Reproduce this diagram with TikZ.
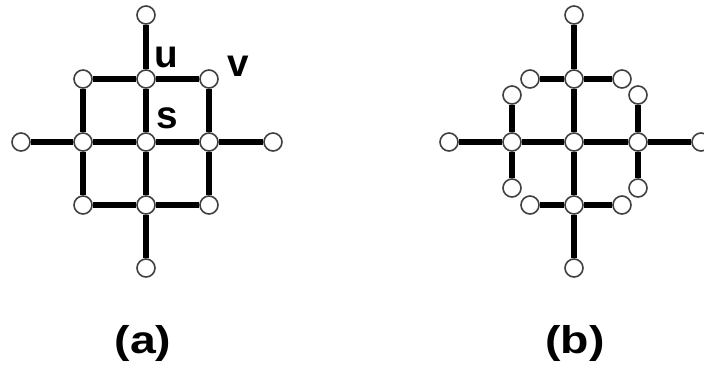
\documentclass[tikz,border=0pt]{standalone}
\usepackage{fontspec}
\setmainfont{Liberation Sans}
\newfontfamily\legenda[FakeStretch=1.2]{Liberation Sans}
\begin{document}
\begin{tikzpicture}[x=0.75pt, y=-0.75pt,
    vert/.style={circle, draw=black!75, line width=1.2pt, fill=white, minimum size=13.5pt, inner sep=0pt},
    aresta/.style={line width=4.4pt},
    rotulo/.style={font=\fontsize{29}{31}\selectfont\bfseries, inner sep=0pt}]
\useasboundingbox (0,0) rectangle (704,368);
% Grafo (a): quadrado 3x3 com pontas
\foreach \i in {1,2,3}
  \foreach \j in {1,2,3}
    \node[vert] (a\i\j) at ({146+63*(\i-2)},{142+63*(\j-2)}) {};
\node[vert] (a20) at (146,15) {};
\node[vert] (a24) at (146,268) {};
\node[vert] (a02) at (21,142) {};
\node[vert] (a42) at (273,142) {};
\foreach \j in {1,2,3}
  \draw[aresta] (a1\j) -- (a2\j) (a2\j) -- (a3\j);
\foreach \i in {1,2,3}
  \draw[aresta] (a\i1) -- (a\i2) (a\i2) -- (a\i3);
\draw[aresta] (a02) -- (a12) (a32) -- (a42) (a20) -- (a21) (a23) -- (a24);
% Rotulos u, v, s
\node[rotulo] (u) at (166,57) {u};
\node[rotulo] (v) at (238,66) {v};
\node[rotulo] (s) at (167,118) {s};
% Grafo (b): cruz com ramos
\node[vert] (b22) at (574,142) {};
\node[vert] (b12) at (512,142) {};
\node[vert] (b32) at (638,142) {};
\node[vert] (b02) at (449,142) {};
\node[vert] (b42) at (701,142) {};
\node[vert] (b21) at (574,79) {};
\node[vert] (b20) at (574,15) {};
\node[vert] (b23) at (574,205) {};
\node[vert] (b24) at (574,268) {};
% Pontas dos ramos
\node[vert] (bt1) at (530,79) {};
\node[vert] (bt2) at (622,79) {};
\node[vert] (bb1) at (530,205) {};
\node[vert] (bb2) at (622,205) {};
\node[vert] (bl1) at (512,95) {};
\node[vert] (bl2) at (512,188) {};
\node[vert] (br1) at (638,95) {};
\node[vert] (br2) at (638,188) {};
\draw[aresta] (b02) -- (b12) (b12) -- (b22) (b22) -- (b32) (b32) -- (b42);
\draw[aresta] (b20) -- (b21) (b21) -- (b22) (b22) -- (b23) (b23) -- (b24);
\draw[aresta] (bt1) -- (b21) (b21) -- (bt2) (bb1) -- (b23) (b23) -- (bb2);
\draw[aresta] (bl1) -- (b12) (b12) -- (bl2) (br1) -- (b32) (b32) -- (br2);
% Legendas
\node[rotulo, font=\fontsize{29}{31}\selectfont\legenda\bfseries] (la) at (143,343) {(a)};
\node[rotulo, font=\fontsize{29}{31}\selectfont\legenda\bfseries] (lb) at (575,343) {(b)};
\end{tikzpicture}
\end{document}
